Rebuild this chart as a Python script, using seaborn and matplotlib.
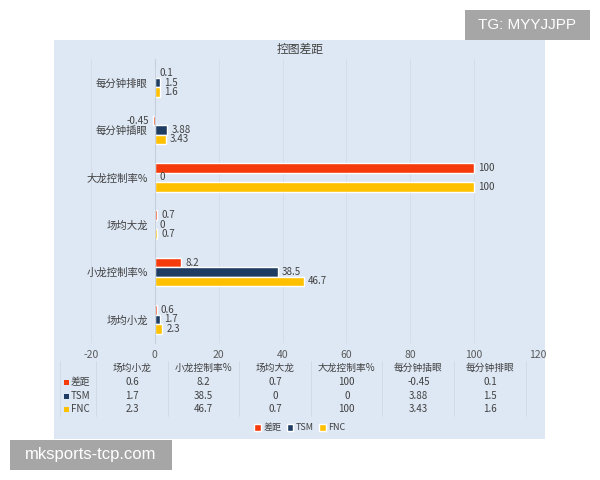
# Horizontal grouped bars + data table, recreating the "控图差距" chart
import matplotlib
matplotlib.use("Agg")
import matplotlib.pyplot as plt
from matplotlib.patches import Rectangle, Patch
from matplotlib.lines import Line2D
import pandas as pd
import seaborn as sns

categories = ["场均小龙", "小龙控制率%", "场均大龙", "大龙控制率%", "每分钟插眼", "每分钟排眼"]
series = ["差距", "TSM", "FNC"]
gap_vals = [0.6, 8.2, 0.7, 100, -0.45, 0.1]
tsm_vals = [1.7, 38.5, 0, 0, 3.88, 1.5]
fnc_vals = [2.3, 46.7, 0.7, 100, 3.43, 1.6]
colors = ["#F53B0B", "#1F3D63", "#FFC000"]
x_ticks = [-20, 0, 20, 40, 60, 80, 100, 120]

W, H = 600, 480
def fx(x): return x / W
def fy(y): return 1 - y / H

sns.set_theme(style="white")
plt.rcParams["font.family"] = ["Noto Sans CJK SC", "DejaVu Sans"]
plt.rcParams["axes.unicode_minus"] = False

df = pd.DataFrame({
    "项目": categories * 3,
    "系列": [s for s in series for _ in categories],
    "值": gap_vals + tsm_vals + fnc_vals,
})

fig = plt.figure(figsize=(6, 4.8), dpi=100)
fig.patch.set_facecolor("white")

# light blue chart panel (behind the axes)
fig.patches.append(Rectangle((fx(54), fy(439)), fx(545) - fx(54), fy(40) - fy(439),
                             transform=fig.transFigure, facecolor="#DEE8F4",
                             edgecolor="none", zorder=-5))

ax = fig.add_axes([fx(91), fy(343), fx(538) - fx(91), fy(59) - fy(343)])
ax.set_facecolor("none")
ax.set_zorder(2)
sns.barplot(data=df, y="项目", x="值", hue="系列", order=categories[::-1],
            hue_order=series, palette=colors, orient="h", width=0.6,
            saturation=1, errorbar=None, legend=False, ax=ax)

for cont in ax.containers:
    ax.bar_label(cont, fmt="%g", padding=3, fontsize=7, color="#404040")

ax.set_xlim(-20, 120)
ax.set_xticks(x_ticks)
ax.set_xlabel("")
ax.set_ylabel("")
ax.grid(axis="x", color="#D3DCE7", linewidth=0.6)
ax.set_axisbelow(True)
for s in ["top", "right", "bottom"]:
    ax.spines[s].set_visible(False)
ax.spines["left"].set_position(("data", 0))
ax.spines["left"].set_color("#C5D0DC")
ax.spines["left"].set_linewidth(0.8)
ax.tick_params(axis="y", length=0, pad=5, labelsize=7.5, labelcolor="#404040")
ax.tick_params(axis="x", length=0, pad=5, labelsize=7.5, labelcolor="#595959")

fig.text(fx(300), fy(50), "控图差距", ha="center", va="center", fontsize=8.5, color="#404040")

# data table under the axis
col_w = 71.6
col_x = [132 + col_w * i for i in range(len(categories))]
row_y = [382, 396, 409]
for x in [60] + [96 + col_w * k for k in range(len(categories) + 1)]:
    fig.add_artist(Line2D([fx(x), fx(x)], [fy(361), fy(416)], color="#CCD6E2", linewidth=0.5))
for i, cat in enumerate(categories):
    fig.text(fx(col_x[i]), fy(368), cat, ha="center", va="center", fontsize=7, color="#404040")
for r, (name, vals) in enumerate(zip(series, [gap_vals, tsm_vals, fnc_vals])):
    fig.patches.append(Rectangle((fx(64), fy(row_y[r] + 3)), fx(5), 5 / H,
                                 transform=fig.transFigure, facecolor=colors[r], edgecolor="none"))
    fig.text(fx(71), fy(row_y[r]), name, ha="left", va="center", fontsize=7, color="#404040")
    for i, v in enumerate(vals):
        fig.text(fx(col_x[i]), fy(row_y[r]), f"{v:g}", ha="center", va="center",
                 fontsize=7, color="#404040")

handles = [Patch(facecolor=c, label=s) for c, s in zip(colors, series)]
fig.legend(handles=handles, loc="center", bbox_to_anchor=(0.5, fy(428)), ncol=3,
           frameon=False, fontsize=6.5, handlelength=0.7, handleheight=0.7,
           handletextpad=0.3, columnspacing=0.6, labelcolor="#404040")

# watermark boxes
fig.patches.append(Rectangle((fx(465), fy(40)), fx(125), 30 / H, transform=fig.transFigure,
                             facecolor="#A6A6A6", edgecolor="none"))
fig.text(fx(527.5), fy(25), "TG: MYYJJPP", ha="center", va="center", fontsize=11,
         color="white", family="Liberation Sans")
fig.patches.append(Rectangle((fx(10), fy(470)), fx(162), 30 / H, transform=fig.transFigure,
                             facecolor="#A6A6A6", edgecolor="none"))
fig.text(fx(91), fy(455), "mksports-tcp.com", ha="center", va="center", fontsize=12,
         color="white", family="Liberation Sans")

fig.savefig("out.png", dpi=100)
